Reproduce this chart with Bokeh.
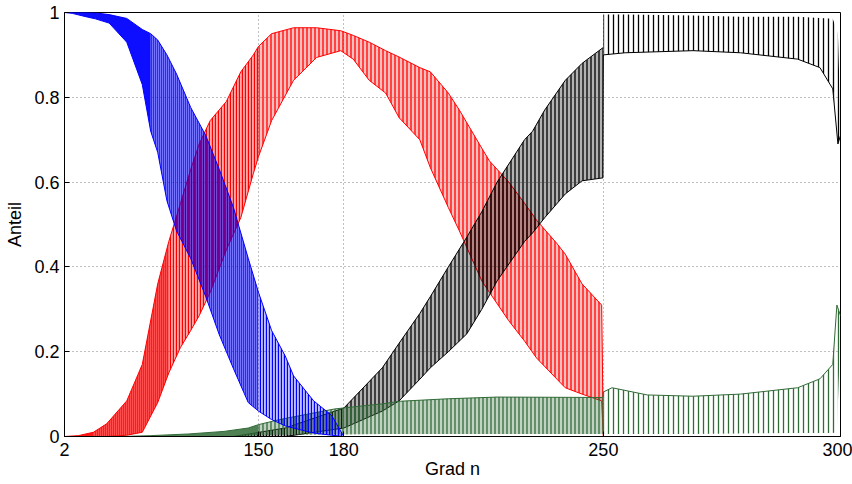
import numpy as np
from bokeh.plotting import figure
from bokeh.models import Range1d, FixedTicker, ColumnDataSource
from bokeh.embed import file_html
from bokeh.resources import INLINE

# ---------------- data ----------------
TICK_DEGREES = [2, 150, 180, 250, 300]
Y_TICKS = [0, 0.2, 0.4, 0.6, 0.8, 1.0]
Y_TICK_LABELS = ["0", "0.2", "0.4", "0.6", "0.8", "1"]

# blue series: envelope (lowest / highest value within each degree)
blue_n  = [2, 30, 50, 60, 72, 85, 95, 100, 104, 109, 114, 121, 128, 134, 140, 146, 150, 155, 160, 163, 170, 176, 180, 300]
blue_lo = [1.0, 0.998, 0.99, 0.985, 0.975, 0.93, 0.83, 0.72, 0.67, 0.556, 0.485, 0.42, 0.33, 0.24, 0.16, 0.08, 0.06, 0.04, 0.025, 0.02, 0.008, 0.003, 0.0, 0.0]
blue_hi = [1.0, 1.0, 1.0, 0.999, 0.995, 0.986, 0.96, 0.95, 0.935, 0.90, 0.855, 0.776, 0.71, 0.63, 0.54, 0.42, 0.34, 0.25, 0.19, 0.143, 0.084, 0.05, 0.0, 0.0]

# red series
red_n  = [2, 40, 58, 70, 85, 95, 104, 110, 116, 121, 125, 130, 137, 143, 148, 150, 155, 163, 171, 179, 183, 188, 193, 197, 203, 206, 211, 214, 220, 222, 227, 231, 234, 239, 241, 245, 249.6, 250, 300]
red_lo = [0.0, 0.0, 0.0, 0.0, 0.003, 0.01, 0.08, 0.15, 0.21, 0.25, 0.285, 0.34, 0.44, 0.516, 0.62, 0.66, 0.745, 0.84, 0.894, 0.91, 0.89, 0.84, 0.81, 0.752, 0.70, 0.634, 0.54, 0.485, 0.367, 0.34, 0.273, 0.225, 0.185, 0.135, 0.115, 0.10, 0.084, 0.0, 0.0]
red_hi = [0.0, 0.002, 0.01, 0.03, 0.084, 0.17, 0.36, 0.46, 0.55, 0.63, 0.69, 0.745, 0.79, 0.86, 0.90, 0.92, 0.95, 0.964, 0.964, 0.957, 0.946, 0.93, 0.91, 0.895, 0.87, 0.86, 0.81, 0.77, 0.68, 0.65, 0.60, 0.55, 0.51, 0.455, 0.43, 0.36, 0.31, 0.0, 0.0]

# black series
black_n  = [140, 160, 180, 192, 197, 203, 206, 211, 216, 220, 224, 231, 233, 236, 241, 245, 249.9, 250, 255, 270, 280, 291.6, 296, 298.5, 299.5, 300]
black_lo = [0.0, 0.0, 0.02, 0.06, 0.084, 0.135, 0.162, 0.20, 0.242, 0.30, 0.367, 0.46, 0.48, 0.516, 0.572, 0.603, 0.61, 0.90, 0.905, 0.91, 0.905, 0.89, 0.87, 0.82, 0.69, 0.71]
black_hi = [0.0, 0.02, 0.067, 0.162, 0.22, 0.29, 0.33, 0.40, 0.47, 0.53, 0.60, 0.70, 0.72, 0.77, 0.84, 0.88, 0.917, 0.995, 0.995, 0.993, 0.99, 0.99, 0.987, 0.985, 0.95, 0.74]

# green series
green_n  = [80, 100, 120, 136, 146, 150, 158, 177, 192, 197, 211, 224, 249.9, 250, 252, 260, 270, 280, 291.6, 296, 298.5, 299.3, 300]
green_lo = [0.0, 0.0, 0.0, 0.0, 0.002, 0.003, 0.004, 0.005, 0.006, 0.006, 0.006, 0.006, 0.006, 0.006, 0.006, 0.006, 0.006, 0.007, 0.008, 0.008, 0.008, 0.01, 0.25]
green_hi = [0.0, 0.002, 0.006, 0.012, 0.02, 0.028, 0.04, 0.065, 0.077, 0.083, 0.089, 0.093, 0.092, 0.105, 0.115, 0.098, 0.095, 0.10, 0.115, 0.136, 0.17, 0.31, 0.285]

# ---------------- figure ----------------
FONT = "Liberation Sans"
p = figure(width=852, height=484,
           x_range=Range1d(TICK_DEGREES[0] ** 2, TICK_DEGREES[-1] ** 2),
           y_range=Range1d(0, 1),
           output_backend="svg", toolbar_location=None,
           min_border_left=64, min_border_right=12, min_border_top=12, min_border_bottom=48,
           x_axis_label="Grad n", y_axis_label="Anteil")
p.background_fill_color = "white"
p.border_fill_color = "white"
p.outline_line_color = "black"
p.outline_line_width = 1

xt = [d * d for d in TICK_DEGREES]
p.xaxis.ticker = FixedTicker(ticks=xt)
p.xaxis.major_label_overrides = {v: str(d) for v, d in zip(xt, TICK_DEGREES)}
p.yaxis.ticker = FixedTicker(ticks=Y_TICKS)
p.yaxis.major_label_overrides = {v: s for v, s in zip(Y_TICKS, Y_TICK_LABELS)}
p.xgrid.ticker = FixedTicker(ticks=xt)
p.ygrid.ticker = FixedTicker(ticks=Y_TICKS)
for g in (p.xgrid, p.ygrid):
    g.grid_line_color = "#808080"
    g.grid_line_dash = "1 3"
    g.grid_line_width = 1

for ax in (p.xaxis, p.yaxis):
    ax.axis_line_color = "black"
    ax.major_tick_line_color = "black"
    ax.major_tick_in = 5
    ax.major_tick_out = 0
    ax.minor_tick_line_color = None
    ax.major_label_text_font = FONT
    ax.major_label_text_font_size = "18px"
    ax.major_label_text_color = "black"
    ax.axis_label_text_font = FONT
    ax.axis_label_text_font_size = "18px"
    ax.axis_label_text_font_style = "normal"
    ax.axis_label_text_color = "black"
p.xaxis.major_label_standoff = 6
p.xaxis.axis_label_standoff = 0
p.yaxis.major_label_standoff = 5
p.yaxis.axis_label_standoff = 6


def draw_series(n, lo, hi, color, segments, hi_line_max=None, lo_line=True):
    n = np.asarray(n, dtype=float)
    lo = np.asarray(lo, dtype=float)
    hi = np.asarray(hi, dtype=float)
    x = n ** 2  # coefficient index (grows with n^2)
    for a, b, scale, alpha in segments:
        m = (n >= a) & (n <= b)
        src = ColumnDataSource(dict(x=x[m], lo=lo[m], hi=hi[m]))
        kw = dict(fill_color=color, fill_alpha=alpha)
        if scale:
            kw.update(hatch_pattern="|", hatch_scale=scale, hatch_color=color,
                      hatch_weight=1.3, hatch_alpha=1.0)
        p.varea(x="x", y1="lo", y2="hi", source=src, **kw)
    if lo_line:
        p.line(x, lo, line_color=color, line_width=1)
    mh = np.ones_like(n, dtype=bool) if hi_line_max is None else (n <= hi_line_max)
    p.line(x[mh], hi[mh], line_color=color, line_width=1)


GREEN = "#316b37"
draw_series(red_n, red_lo, red_hi, "#ff0000",
            [(2, 58, None, 0.9), (58, 110, 2, 0.7), (110, 150, 3, 0.35), (150, 250, 4, 0.25)])
draw_series(black_n, black_lo, black_hi, "#000000",
            [(140, 180, 3, 0.3), (180, 249.9, 4, 0.3), (250, 300, 5, 0.0)], hi_line_max=249.9)
draw_series(green_n, green_lo, green_hi, GREEN,
            [(80, 150, None, 0.85), (150, 249.9, 4, 0.3), (250, 300, 5, 0.0)], lo_line=False)
draw_series(blue_n, blue_lo, blue_hi, "#0000ff",
            [(2, 100, None, 0.95), (100, 150, 2, 0.55), (150, 180, 3, 0.25)])

open("out.html", "w").write(file_html(p, INLINE))
